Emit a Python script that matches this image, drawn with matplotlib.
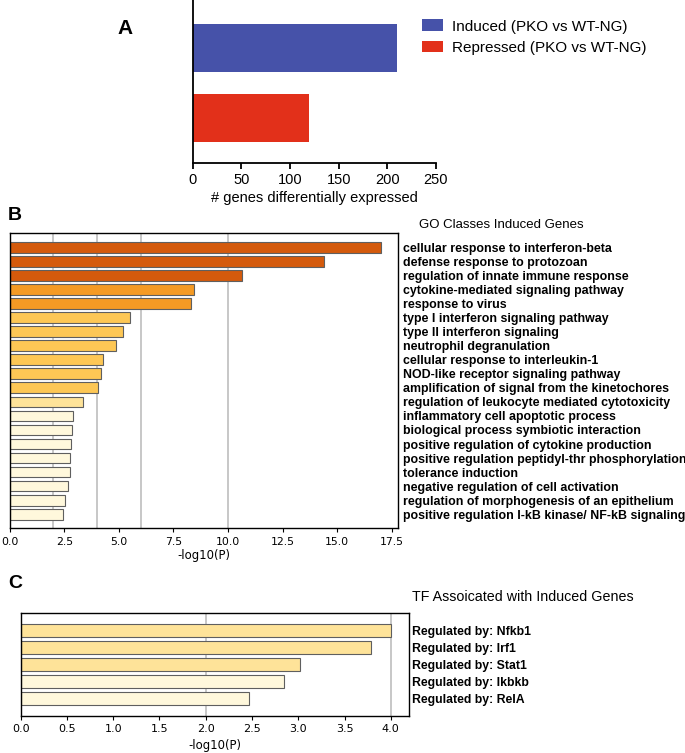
import matplotlib
matplotlib.use("Agg")
import matplotlib.pyplot as plt

# ---------------- data ----------------
a_categories = ["Induced (PKO vs WT-NG)", "Repressed (PKO vs WT-NG)"]
a_values = [210, 120]
a_colors = ["#4652a9", "#e2301a"]
a_ticks = [0, 50, 100, 150, 200, 250]

go_terms = [
    "cellular response to interferon-beta",
    "defense response to protozoan",
    "regulation of innate immune response",
    "cytokine-mediated signaling pathway",
    "response to virus",
    "type I interferon signaling pathway",
    "type II interferon signaling",
    "neutrophil degranulation",
    "cellular response to interleukin-1",
    "NOD-like receptor signaling pathway",
    "amplification of signal from the kinetochores",
    "regulation of leukocyte mediated cytotoxicity",
    "inflammatory cell apoptotic process",
    "biological process symbiotic interaction",
    "positive regulation of cytokine production",
    "positive regulation peptidyl-thr phosphorylation",
    "tolerance induction",
    "negative regulation of cell activation",
    "regulation of morphogenesis of an epithelium",
    "positive regulation I-kB kinase/ NF-kB signaling",
]
go_values = [17.0, 14.4, 10.62, 8.45, 8.31, 5.52, 5.17, 4.89, 4.28, 4.16,
             4.05, 3.36, 2.90, 2.86, 2.81, 2.75, 2.75, 2.67, 2.55, 2.45]
go_level = [0, 0, 0, 1, 1, 2, 2, 2, 2, 2, 2, 3, 4, 4, 4, 4, 4, 4, 4, 4]
go_grid = [2, 4, 6, 10]
go_ticks = [0.0, 2.5, 5.0, 7.5, 10.0, 12.5, 15.0, 17.5]

tf_terms = ["Regulated by: Nfkb1", "Regulated by: Irf1", "Regulated by: Stat1",
            "Regulated by: Ikbkb", "Regulated by: RelA"]
tf_values = [4.0, 3.79, 3.02, 2.85, 2.47]
tf_level = [3, 3, 3, 4, 4]
tf_grid = [2, 4]
tf_ticks = [0.0, 0.5, 1.0, 1.5, 2.0, 2.5, 3.0, 3.5, 4.0]

palette = ["#d45a0c", "#f49a24", "#fdc755", "#fee399", "#fff8dc"]

# ---------------- figure ----------------
W, H = 685, 753
fig = plt.figure(figsize=(W / 100, H / 100), dpi=100)

def rect(x0, y0, x1, y1):
    return [x0 / W, 1 - y1 / H, (x1 - x0) / W, (y1 - y0) / H]

def fx(x):
    return x / W

def fy(y):
    return 1 - y / H

ARIAL = "Liberation Sans"

# ---------------- panel A ----------------
axA = fig.add_axes(rect(192.7, 0, 436, 163.3))
ypos = [1, 0]
bars = axA.barh(ypos, a_values, height=0.68, color=a_colors, edgecolor="none")
axA.set_ylim(-0.65, 1.69)
axA.set_xlim(0, 250)
axA.set_xticks(a_ticks)
axA.set_xticklabels([str(t) for t in a_ticks], fontfamily=ARIAL, fontsize=10.5)
axA.set_yticks([])
for s in ["top", "right"]:
    axA.spines[s].set_visible(False)
for s in ["left", "bottom"]:
    axA.spines[s].set_linewidth(1.3)
axA.tick_params(axis="x", length=4, width=1.3, pad=3)
axA.set_xlabel("# genes differentially expressed", fontfamily=ARIAL, fontsize=10.5, labelpad=3)
fig.legend(bars.patches, a_categories, loc="upper left",
           bbox_to_anchor=(fx(421.7), fy(19.5)), frameon=False,
           prop={"family": ARIAL, "size": 11}, handlelength=1.4, handleheight=0.8,
           handletextpad=0.6, labelspacing=0.45, borderpad=0, borderaxespad=0)
fig.text(fx(125), fy(28), "A", fontfamily=ARIAL, fontweight="bold", fontsize=15,
         ha="center", va="center")

# ---------------- panel B ----------------
axB = fig.add_axes(rect(9.7, 233.3, 398.3, 528.3))
nb = len(go_terms)
for xg in go_grid:
    axB.axvline(xg, color="#bdbdbd", lw=1.2, zorder=0)
axB.barh(range(nb), go_values, height=0.76,
         color=[palette[i] for i in go_level], edgecolor="#5f5f5f", linewidth=0.8, zorder=2)
axB.set_ylim(nb, -1)
axB.set_xlim(0, 17.8)
axB.set_xticks(go_ticks)
axB.set_xticklabels([f"{t:.1f}" for t in go_ticks], fontsize=7.8)
axB.set_yticks(range(nb))
axB.set_yticklabels(go_terms, fontfamily=ARIAL, fontweight="bold", fontsize=8.9)
axB.yaxis.tick_right()
axB.tick_params(axis="y", length=0, pad=3.2)
axB.tick_params(axis="x", length=3, width=0.8, pad=3)
for s in axB.spines.values():
    s.set_linewidth(1.0)
axB.set_xlabel("-log10(P)", fontsize=8.4, labelpad=2)
fig.text(fx(419.3), fy(225), "GO Classes Induced Genes", fontfamily=ARIAL,
         fontsize=9.5, ha="left", va="center")
fig.text(fx(15), fy(215), "B", fontfamily=ARIAL, fontweight="bold", fontsize=14,
         ha="center", va="center")

# ---------------- panel C ----------------
axC = fig.add_axes(rect(20.7, 613.3, 409.3, 716))
nc = len(tf_terms)
for xg in tf_grid:
    axC.axvline(xg, color="#bdbdbd", lw=1.2, zorder=0)
axC.barh(range(nc), tf_values, height=0.76,
         color=[palette[i] for i in tf_level], edgecolor="#5f5f5f", linewidth=0.8, zorder=2)
axC.set_ylim(nc, -1)
axC.set_xlim(0, 4.2)
axC.set_xticks(tf_ticks)
axC.set_xticklabels([f"{t:.1f}" for t in tf_ticks], fontsize=8)
axC.set_yticks(range(nc))
axC.set_yticklabels(tf_terms, fontfamily=ARIAL, fontweight="bold", fontsize=8.8)
axC.yaxis.tick_right()
axC.tick_params(axis="y", length=0, pad=2.2)
axC.tick_params(axis="x", length=3, width=0.8, pad=3)
for s in axC.spines.values():
    s.set_linewidth(1.0)
axC.set_xlabel("-log10(P)", fontsize=8.4, labelpad=3)
fig.text(fx(411.7), fy(597.3), "TF Assoicated with Induced Genes", fontfamily=ARIAL,
         fontsize=10.3, ha="left", va="center")
fig.text(fx(15), fy(584), "C", fontfamily=ARIAL, fontweight="bold", fontsize=14,
         ha="center", va="center")

fig.savefig("out.png", dpi=100)
